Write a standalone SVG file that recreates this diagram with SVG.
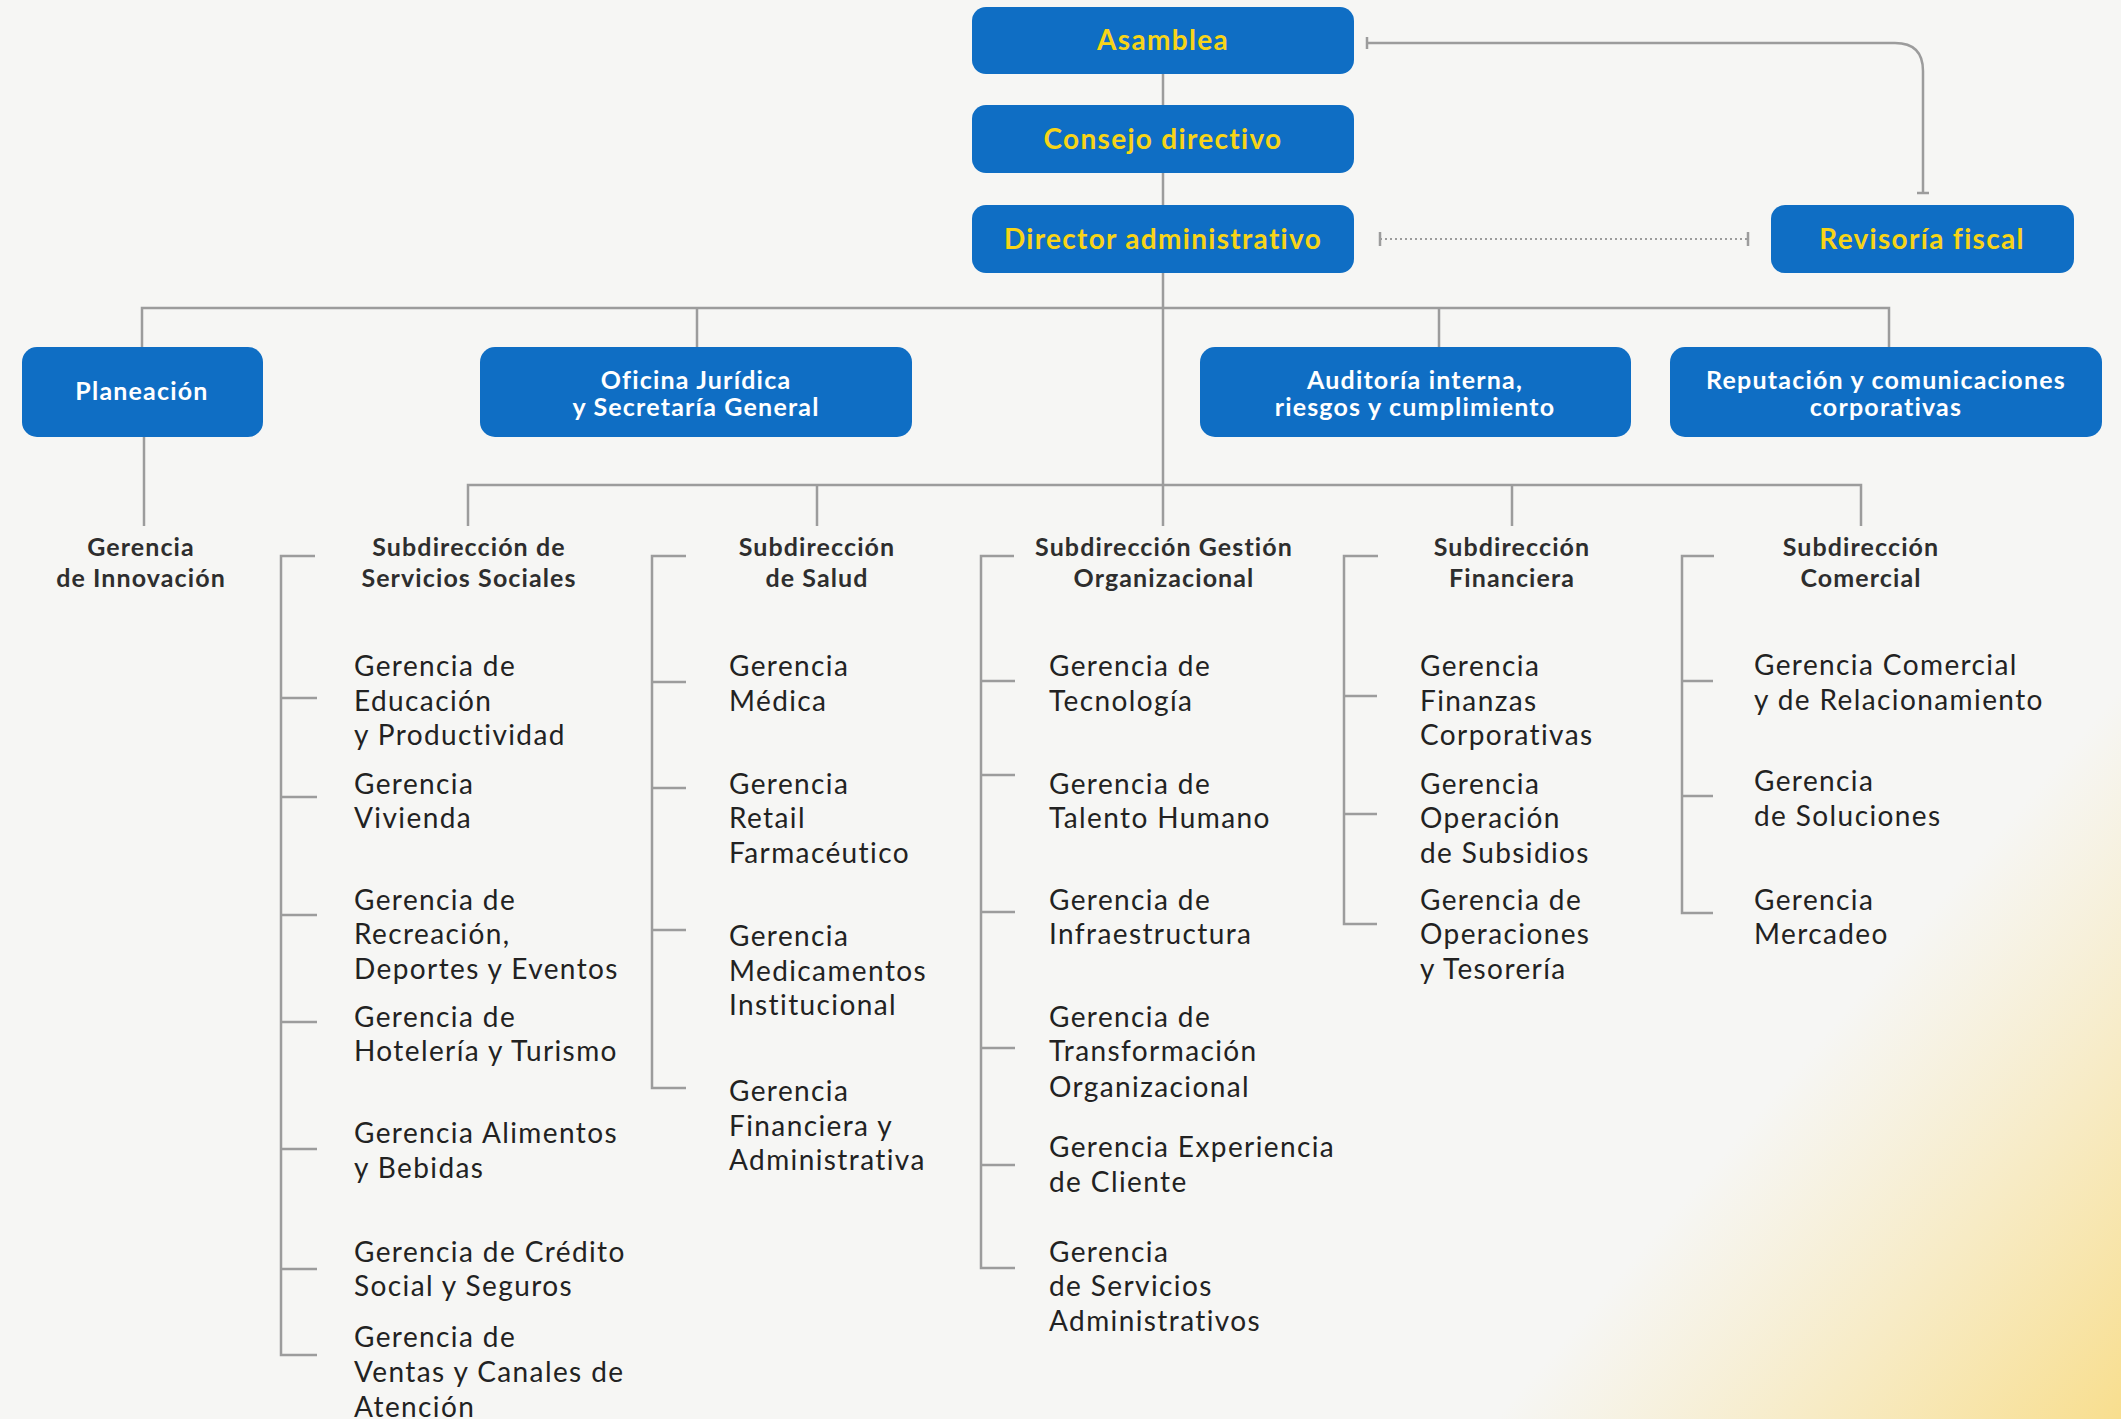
<svg xmlns="http://www.w3.org/2000/svg" width="2121" height="1419" viewBox="0 0 2121 1419">
<defs>
<linearGradient id="bgGrad" gradientUnits="userSpaceOnUse" x1="1760" y1="1110" x2="2121" y2="1419">
<stop offset="0" stop-color="#F8E29E" stop-opacity="0"/>
<stop offset="1" stop-color="#F8DE8E"/>
</linearGradient>
<style>
.box{fill:#0F6EC4;}
.tb{font-family:Lato,"Noto Sans",sans-serif;font-weight:700;font-size:28px;fill:#F7D417;text-anchor:middle;letter-spacing:1.3px;}
.wb{font-family:Lato,"Noto Sans",sans-serif;font-weight:700;font-size:25px;fill:#FFFFFF;text-anchor:middle;letter-spacing:1.2px;}
.hd{font-family:Lato,"Noto Sans",sans-serif;font-weight:700;font-size:25px;fill:#2E2E2E;text-anchor:middle;letter-spacing:1.1px;}
.bd{font-family:Lato,"Noto Sans",sans-serif;font-weight:400;font-size:28px;fill:#222222;letter-spacing:1.4px;}
.ln{fill:none;stroke:#9C9C9C;stroke-width:2.5;}
.dt{fill:none;stroke:#9C9C9C;stroke-width:2;stroke-dasharray:2 3;}
</style>
</defs>
<rect x="0" y="0" width="2121" height="1419" fill="#F6F6F4"/>
<rect x="0" y="0" width="2121" height="1419" fill="url(#bgGrad)"/>

<g id="connectors">
<path class="ln" d="M1163,74 V105 M1163,173 V205 M1163,273 V526"/>
<path class="ln" d="M1367,43 H1895 Q1923,43 1923,71 V193"/>
<path class="ln" d="M1367,37 V49 M1917,193 H1929"/>
<path class="dt" d="M1380,239 H1748"/>
<path class="ln" d="M1380,232 V246 M1748,232 V246"/>
<path class="ln" d="M142,347 V308 H1889 V347 M697,308 V347 M1439,308 V347"/>
<path class="ln" d="M144,437 V526"/>
<path class="ln" d="M468,526 V485 H1861 V526 M817,485 V526 M1512,485 V526"/>
<path class="ln" d="M315,556 H281 V1355 H317 M281,698 H317 M281,797 H317 M281,915 H317 M281,1022 H317 M281,1149 H317 M281,1269 H317"/>
<path class="ln" d="M686,556 H652 V1088 H686 M652,682 H686 M652,788 H686 M652,930 H686"/>
<path class="ln" d="M1014,556 H981 V1268 H1015 M981,681 H1015 M981,775 H1015 M981,912 H1015 M981,1048 H1015 M981,1165 H1015"/>
<path class="ln" d="M1378,556 H1344 V924 H1377 M1344,696 H1377 M1344,814 H1377"/>
<path class="ln" d="M1714,556 H1682 V913 H1713 M1682,681 H1713 M1682,796 H1713"/>
</g>

<g id="asamblea"><rect class="box" x="972" y="7" width="382" height="67" rx="14"/><text class="tb" x="1163" y="50">Asamblea</text></g>
<g id="consejo"><rect class="box" x="972" y="105" width="382" height="68" rx="14"/><text class="tb" x="1163" y="149">Consejo directivo</text></g>
<g id="director"><rect class="box" x="972" y="205" width="382" height="68" rx="14"/><text class="tb" x="1163" y="249">Director administrativo</text></g>
<g id="revisoria"><rect class="box" x="1771" y="205" width="303" height="68" rx="14"/><text class="tb" x="1922" y="249">Revisoría fiscal</text></g>

<g id="planeacion"><rect class="box" x="22" y="347" width="241" height="90" rx="15"/><text class="wb" x="142" y="400">Planeación</text></g>
<g id="oficina"><rect class="box" x="480" y="347" width="432" height="90" rx="15"/><text class="wb" x="696" y="389">Oficina Jurídica</text><text class="wb" x="696" y="416">y Secretaría General</text></g>
<g id="auditoria"><rect class="box" x="1200" y="347" width="431" height="90" rx="15"/><text class="wb" x="1415" y="389">Auditoría interna,</text><text class="wb" x="1415" y="416">riesgos y cumplimiento</text></g>
<g id="reputacion"><rect class="box" x="1670" y="347" width="432" height="90" rx="15"/><text class="wb" x="1886" y="389">Reputación y comunicaciones</text><text class="wb" x="1886" y="416">corporativas</text></g>

<g id="innovacion"><text class="hd" x="141" y="556">Gerencia</text><text class="hd" x="141" y="587">de Innovación</text></g>
<g id="sub-sociales"><text class="hd" x="469" y="556">Subdirección de</text><text class="hd" x="469" y="587">Servicios Sociales</text></g>
<g id="sub-salud"><text class="hd" x="817" y="556">Subdirección</text><text class="hd" x="817" y="587">de Salud</text></g>
<g id="sub-gestion"><text class="hd" x="1164" y="556">Subdirección Gestión</text><text class="hd" x="1164" y="587">Organizacional</text></g>
<g id="sub-financiera"><text class="hd" x="1512" y="556">Subdirección</text><text class="hd" x="1512" y="587">Financiera</text></g>
<g id="sub-comercial"><text class="hd" x="1861" y="556">Subdirección</text><text class="hd" x="1861" y="587">Comercial</text></g>

<g id="g-educacion"><text class="bd" x="354" y="676">Gerencia de</text><text class="bd" x="354" y="711">Educación</text><text class="bd" x="354" y="745">y Productividad</text></g>
<g id="g-vivienda"><text class="bd" x="354" y="794">Gerencia</text><text class="bd" x="354" y="828">Vivienda</text></g>
<g id="g-recreacion"><text class="bd" x="354" y="910">Gerencia de</text><text class="bd" x="354" y="944">Recreación,</text><text class="bd" x="354" y="979">Deportes y Eventos</text></g>
<g id="g-hoteleria"><text class="bd" x="354" y="1027">Gerencia de</text><text class="bd" x="354" y="1061">Hotelería y Turismo</text></g>
<g id="g-alimentos"><text class="bd" x="354" y="1143">Gerencia Alimentos</text><text class="bd" x="354" y="1178">y Bebidas</text></g>
<g id="g-credito"><text class="bd" x="354" y="1262">Gerencia de Crédito</text><text class="bd" x="354" y="1296">Social y Seguros</text></g>
<g id="g-ventas"><text class="bd" x="354" y="1347">Gerencia de</text><text class="bd" x="354" y="1382">Ventas y Canales de</text><text class="bd" x="354" y="1417">Atención</text></g>

<g id="g-medica"><text class="bd" x="729" y="676">Gerencia</text><text class="bd" x="729" y="711">Médica</text></g>
<g id="g-retail"><text class="bd" x="729" y="794">Gerencia</text><text class="bd" x="729" y="828">Retail</text><text class="bd" x="729" y="863">Farmacéutico</text></g>
<g id="g-medicamentos"><text class="bd" x="729" y="946">Gerencia</text><text class="bd" x="729" y="981">Medicamentos</text><text class="bd" x="729" y="1015">Institucional</text></g>
<g id="g-finadm"><text class="bd" x="729" y="1101">Gerencia</text><text class="bd" x="729" y="1136">Financiera y</text><text class="bd" x="729" y="1170">Administrativa</text></g>

<g id="g-tecnologia"><text class="bd" x="1049" y="676">Gerencia de</text><text class="bd" x="1049" y="711">Tecnología</text></g>
<g id="g-talento"><text class="bd" x="1049" y="794">Gerencia de</text><text class="bd" x="1049" y="828">Talento Humano</text></g>
<g id="g-infra"><text class="bd" x="1049" y="910">Gerencia de</text><text class="bd" x="1049" y="944">Infraestructura</text></g>
<g id="g-transformacion"><text class="bd" x="1049" y="1027">Gerencia de</text><text class="bd" x="1049" y="1061">Transformación</text><text class="bd" x="1049" y="1097">Organizacional</text></g>
<g id="g-experiencia"><text class="bd" x="1049" y="1157">Gerencia Experiencia</text><text class="bd" x="1049" y="1192">de Cliente</text></g>
<g id="g-servadm"><text class="bd" x="1049" y="1262">Gerencia</text><text class="bd" x="1049" y="1296">de Servicios</text><text class="bd" x="1049" y="1331">Administrativos</text></g>

<g id="g-finanzas"><text class="bd" x="1420" y="676">Gerencia</text><text class="bd" x="1420" y="711">Finanzas</text><text class="bd" x="1420" y="745">Corporativas</text></g>
<g id="g-subsidios"><text class="bd" x="1420" y="794">Gerencia</text><text class="bd" x="1420" y="828">Operación</text><text class="bd" x="1420" y="863">de Subsidios</text></g>
<g id="g-tesoreria"><text class="bd" x="1420" y="910">Gerencia de</text><text class="bd" x="1420" y="944">Operaciones</text><text class="bd" x="1420" y="979">y Tesorería</text></g>

<g id="g-comercial"><text class="bd" x="1754" y="675">Gerencia Comercial</text><text class="bd" x="1754" y="710">y de Relacionamiento</text></g>
<g id="g-soluciones"><text class="bd" x="1754" y="791">Gerencia</text><text class="bd" x="1754" y="826">de Soluciones</text></g>
<g id="g-mercadeo"><text class="bd" x="1754" y="910">Gerencia</text><text class="bd" x="1754" y="944">Mercadeo</text></g>
</svg>
